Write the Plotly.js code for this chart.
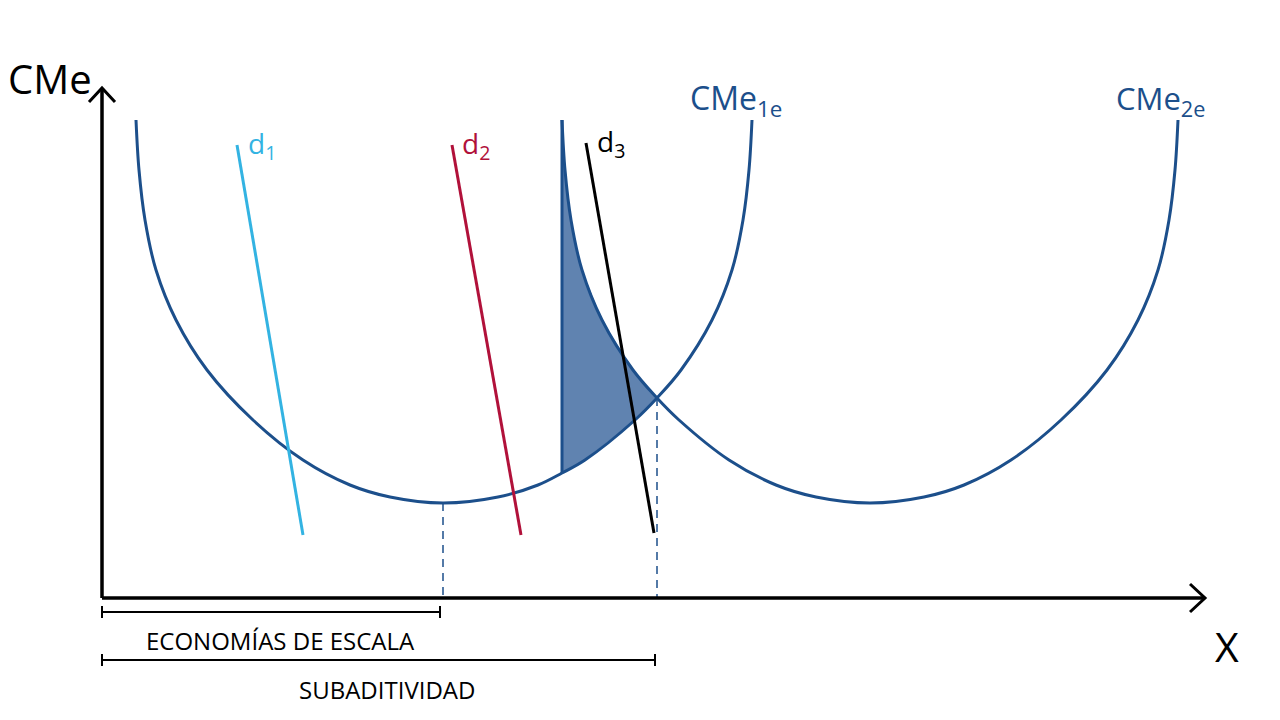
<!DOCTYPE html>
<html>
<head>
<meta charset="utf-8">
<script src="https://cdn.plot.ly/plotly-3.0.1.min.js"></script>
<style>
  html, body { margin: 0; padding: 0; background: #fff; }
  #chart { width: 1280px; height: 720px; }
</style>
</head>
<body>
<div id="chart"></div>
<script>
// points (pixel space, y grows downward)
const cme1X = [136, 139, 145, 156, 176, 207, 253, 303, 350, 390, 443, 498, 538, 562, 585, 635, 657, 681, 712, 732, 743, 749, 752];
const cme1Y = [120, 170, 220, 270, 320, 370, 420, 460, 485, 497, 503, 497, 485, 473, 460, 420, 398, 370, 320, 270, 220, 170, 120];

const cme2X = [562, 565, 571, 582, 602, 633, 657, 679, 729, 776, 816, 870, 924, 964, 1011, 1061, 1107, 1138, 1158, 1169, 1175, 1178];
const cme2Y = [120, 170, 220, 270, 320, 370, 398, 420, 460, 485, 497, 503, 497, 485, 460, 420, 370, 320, 270, 220, 170, 120];

const d1X = [237, 303], d1Y = [145, 535];
const d2X = [452, 521], d2Y = [145, 535];
const d3X = [586, 654], d3Y = [143, 533];

const minX = 443, minY = 503;     // bottom of CMe1e
const crossX = 657, crossY = 398; // CMe1e meets CMe2e
const cutX = 562;                 // left edge of shaded area
const originX = 102, originY = 598;
const yTopY = 88, xEndX = 1205;

const econEnd = 440, econY = 612;
const subEnd = 655, subY = 660;

const blue = '#1c4f8b';
const black = '#000';

// shaded area: CMe2e from the top to the crossing, back along CMe1e
const shadeX = [], shadeY = [];
cme2X.forEach((x, i) => { if (x <= crossX) { shadeX.push(x); shadeY.push(cme2Y[i]); } });
for (let i = cme1X.length - 1; i >= 0; i--) {
  if (cme1X[i] >= cutX && cme1X[i] < crossX) { shadeX.push(cme1X[i]); shadeY.push(cme1Y[i]); }
}

const cme1Bottom = cme1Y[cme1X.indexOf(cutX)];
const line = (x, y, color, width, extra) => ({
  x: x, y: y, type: 'scatter', mode: 'lines', hoverinfo: 'skip',
  line: Object.assign({color: color, width: width}, extra || {})
});

const shade = line(shadeX, shadeY, 'rgba(0,0,0,0)', 0);
shade.fill = 'toself';
shade.fillcolor = '#6083b0';

const data = [
  shade,
  line([cutX, cutX], [cme2Y[0], cme1Bottom], blue, 3),
  line(cme1X, cme1Y, blue, 3, {shape: 'spline', smoothing: 1}),
  line(cme2X, cme2Y, blue, 3, {shape: 'spline', smoothing: 1}),
  line([minX, minX], [minY, originY], blue, 1.5, {dash: '8px,6px'}),
  line([crossX, crossX], [crossY, originY], blue, 1.5, {dash: '8px,6px'}),
  line(d1X, d1Y, '#33b3e2', 3),
  line(d2X, d2Y, '#b1113a', 3),
  line(d3X, d3Y, black, 3),
  // axes with open arrow heads
  line([originX, originX], [originY, yTopY], black, 3.5),
  line([originX - 13, originX, originX + 13], [yTopY + 14, yTopY, yTopY + 14], black, 3),
  line([originX, xEndX], [originY, originY], black, 3.5),
  line([xEndX - 15, xEndX, xEndX - 15], [originY - 14, originY, originY + 14], black, 3),
  // brackets under the axis
  line([originX, econEnd], [econY, econY], black, 2),
  line([originX, originX], [econY - 6, econY + 6], black, 2),
  line([econEnd, econEnd], [econY - 6, econY + 6], black, 2),
  line([originX, subEnd], [subY, subY], black, 2),
  line([originX, originX], [subY - 6, subY + 6], black, 2),
  line([subEnd, subEnd], [subY - 6, subY + 6], black, 2)
];

const txt = (x, y, text, color, size, anchor) => ({
  x: x, y: y, text: text, showarrow: false, xref: 'x', yref: 'y',
  xanchor: anchor || 'left', yanchor: 'middle',
  font: {family: 'Open Sans, sans-serif', size: size, color: color}
});

const layout = {
  width: 1280, height: 720,
  margin: {l: 0, r: 0, t: 0, b: 0, pad: 0},
  paper_bgcolor: '#fff', plot_bgcolor: '#fff',
  showlegend: false,
  xaxis: {range: [0, 1280], visible: false, fixedrange: true},
  yaxis: {range: [720, 0], visible: false, fixedrange: true},
  annotations: [
    txt(6, 78, 'CMe', black, 40),
    txt(1213, 646, 'X', black, 41),
    txt(246, 145, 'd<sub>1</sub>', '#33b3e2', 28),
    txt(460, 145, 'd<sub>2</sub>', '#b1113a', 28),
    txt(595, 143, 'd<sub>3</sub>', black, 28),
    txt(688, 100, 'CMe<sub>1e</sub>', blue, 32),
    txt(1114, 100, 'CMe<sub>2e</sub>', blue, 31),
    txt(280, 640, 'ECONOMÍAS DE ESCALA', black, 24, 'center'),
    txt(387, 689, 'SUBADITIVIDAD', black, 24, 'center')
  ]
};

Plotly.newPlot('chart', data, layout, {displayModeBar: false, staticPlot: true});
</script>
</body>
</html>
